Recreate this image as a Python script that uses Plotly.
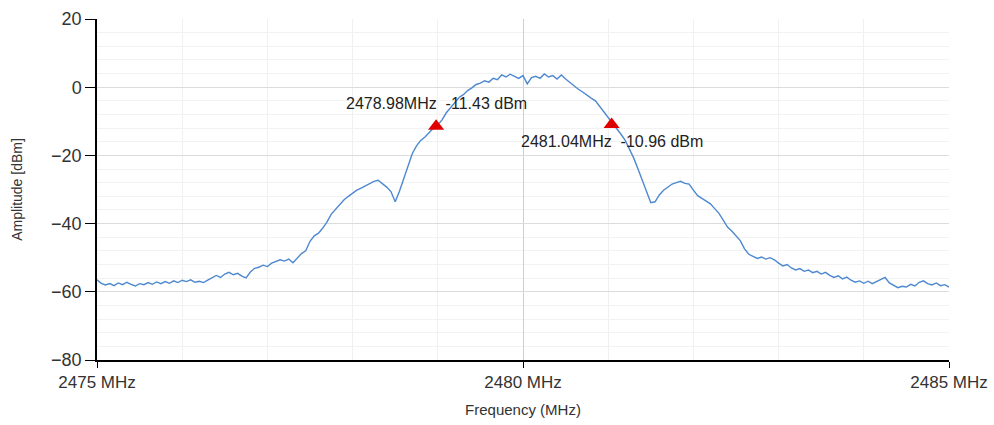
import numpy as np
import plotly.graph_objects as go

# sweep settings
f_start = 2475.0
f_stop = 2485.0

# trace amplitude (dBm), one reading every 0.05 MHz
amplitude = [
    -56.5, -57.5, -58.0, -57.6, -58.2, -57.4, -57.9, -57.2, -57.8, -58.3,
    -57.6, -57.9, -57.3, -57.8, -57.1, -57.6, -57.0, -57.5, -56.8, -57.3,
    -56.6, -57.0, -56.5, -57.2, -56.9, -57.3, -56.6, -56.0, -55.2, -55.8,
    -54.8, -54.3, -55.0, -54.6, -55.4, -55.9, -54.2, -53.1, -52.8, -52.2,
    -52.6, -51.6, -51.1, -50.6, -51.0, -50.4, -51.5, -50.2, -48.8, -48.0,
    -45.2, -43.6, -42.8, -41.3, -39.5, -37.2, -35.8, -34.6, -33.0, -32.0,
    -31.0, -30.2, -29.6, -29.0, -28.4, -27.6, -27.3, -28.2, -29.3, -30.6,
    -33.6, -30.5, -27.0, -23.5, -19.5, -17.2, -15.6, -14.6, -13.2, -12.0,
    -11.0, -9.6, -7.5, -5.9, -4.4, -3.0, -2.2, -1.0, -0.2, 0.8,
    1.2, 1.9, 1.5, 2.6, 2.2, 3.6, 3.0, 3.8, 3.2, 2.6,
    3.4, 1.0, 2.8, 3.2, 2.6, 3.9, 3.0, 3.4, 2.4, 3.6,
    2.4, 1.4, 0.2, -0.6, -1.4, -2.4, -3.2, -4.0, -5.6, -7.2,
    -9.0, -10.6, -12.2, -13.8, -15.6, -18.2, -20.8, -24.0, -27.4, -30.6,
    -33.9, -33.6, -31.6, -30.2, -29.4, -28.4, -28.0, -27.6, -28.2, -28.4,
    -30.2, -31.8, -32.6, -33.4, -34.2, -35.6, -37.0, -39.0, -41.0, -42.2,
    -43.6, -45.0, -47.4, -49.0, -49.6, -50.2, -49.8, -50.4, -50.0, -50.6,
    -51.6, -52.4, -52.0, -53.0, -53.6, -53.2, -54.0, -53.6, -54.4, -54.0,
    -54.8, -54.3, -55.2, -55.8, -55.3, -56.2, -55.7, -56.6, -57.2, -56.8,
    -57.5, -56.9, -57.6, -57.0, -56.2, -55.8, -57.4, -58.2, -58.8, -58.4,
    -58.6, -57.8, -58.3, -57.2, -56.8, -57.6, -58.0, -57.4, -58.2, -57.9,
    -58.6,
]

# markers
marker_freq = [2478.98, 2481.04]
marker_amp = [-11.43, -10.96]
marker_text = ["2478.98MHz \u00a0-11.43 dBm", "2481.04MHz \u00a0-10.96 dBm"]
marker_shift = [23, -17]

# axis ticks
x_ticks = [2475, 2480, 2485]
x_ticklabels = ["2475 MHz", "2480 MHz", "2485 MHz"]

freq = np.linspace(f_start, f_stop, len(amplitude))

fig = go.Figure()
fig.add_trace(go.Scatter(x=freq, y=amplitude, mode="lines",
                         line=dict(color="#4d88d0", width=1.4),
                         showlegend=False))
fig.add_trace(go.Scatter(x=marker_freq, y=marker_amp, mode="markers",
                         marker=dict(symbol="triangle-up", size=14, color="#e00000"),
                         showlegend=False))

for f, a, t, s in zip(marker_freq, marker_amp, marker_text, marker_shift):
    fig.add_annotation(x=f, y=a, text=t, showarrow=False, yshift=s,
                       font=dict(size=16, color="#222222"))

fig.update_xaxes(range=[f_start, f_stop], tickvals=x_ticks, ticktext=x_ticklabels,
                 automargin=False,
                 showline=True, linecolor="black", linewidth=1.5,
                 ticks="outside", ticklen=6, tickcolor="black",
                 showgrid=True, gridcolor="#cfcfcf", zeroline=False,
                 minor=dict(dtick=1, showgrid=True, gridcolor="#f0f0f0"),
                 tickfont=dict(size=17, color="#333333"),
                 title=dict(text="Frequency (MHz)", font=dict(size=15, color="#333333"),
                            standoff=13))
fig.update_yaxes(range=[-80, 20], dtick=20,
                 automargin=False,
                 showline=True, linecolor="black", linewidth=1.5,
                 ticks="outside", ticklen=10, tickcolor="black",
                 showgrid=True, gridcolor="#dcdcdc", zeroline=False,
                 minor=dict(dtick=4, showgrid=True, gridcolor="#f2f2f2"),
                 tickfont=dict(size=18, color="#333333"),
                 title=dict(text="Amplitude [dBm]", font=dict(size=14, color="#333333"),
                            standoff=25))

fig.update_layout(width=994, height=425,
                  margin=dict(l=97, r=45, t=19, b=65),
                  paper_bgcolor="white", plot_bgcolor="white",
                  font=dict(family="Liberation Sans, Arial, sans-serif"))

# drop the page's default body margin so the figure sits at the window origin
fig.write_html("out.html", config={"displayModeBar": False},
               post_script="document.body.style.margin='0';")
